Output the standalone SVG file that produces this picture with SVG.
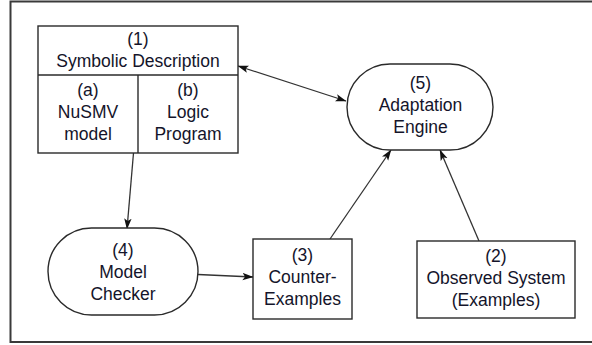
<svg xmlns="http://www.w3.org/2000/svg" width="592" height="345" viewBox="0 0 592 345">
  <style>
    .frame { fill: none; stroke: #3a3a3a; stroke-width: 2; }
    .box { fill: #ffffff; stroke: #2a2a2a; stroke-width: 1.4; }
    .div { fill: none; stroke: #2a2a2a; stroke-width: 1.4; }
    .edge { fill: none; stroke: #333333; stroke-width: 1.3; }
    text { font-family: "Liberation Sans", Arial, sans-serif; font-size: 17.5px; fill: #14142a; text-anchor: middle; }
  </style>
  <defs>
    <marker id="arrow" viewBox="0 0 11 8" refX="10.5" refY="4" markerWidth="11" markerHeight="8" markerUnits="userSpaceOnUse" orient="auto-start-reverse">
      <path d="M0,0.3 L11,4 L0,7.7 L2.5,4 z" fill="#111111"/>
    </marker>
  </defs>
  <rect width="592" height="345" fill="#ffffff"/>

  <!-- surrounding frame (open to the right) -->
  <path class="frame" d="M600,1.5 H10.5 V342 H600"/>

  <!-- connectors -->
  <g id="connectors">
    <line class="edge" x1="238" y1="66" x2="346" y2="101" marker-start="url(#arrow)" marker-end="url(#arrow)"/>
    <line class="edge" x1="133.5" y1="153" x2="127" y2="229" marker-end="url(#arrow)"/>
    <line class="edge" x1="198" y1="274.5" x2="253" y2="277" marker-end="url(#arrow)"/>
    <line class="edge" x1="330" y1="239" x2="391" y2="150" marker-end="url(#arrow)"/>
    <line class="edge" x1="479" y1="241" x2="440" y2="150" marker-end="url(#arrow)"/>
  </g>

  <!-- (1) symbolic description with its two parts -->
  <g id="symbolic-description">
    <rect class="box" x="38" y="26" width="200" height="127"/>
    <line class="div" x1="38" y1="75" x2="238" y2="75"/>
    <line class="div" x1="138" y1="75" x2="138" y2="153"/>
    <text x="138" y="45">(1)</text>
    <text x="138" y="67">Symbolic Description</text>
    <text x="88" y="96">(a)</text>
    <text x="88" y="118">NuSMV</text>
    <text x="88" y="140">model</text>
    <text x="188" y="96">(b)</text>
    <text x="188" y="118">Logic</text>
    <text x="188" y="140">Program</text>
  </g>

  <!-- (5) adaptation engine -->
  <g id="adaptation-engine">
    <rect class="box" x="347" y="64" width="146" height="86" rx="43" ry="43"/>
    <text x="420.5" y="89">(5)</text>
    <text x="420.5" y="111">Adaptation</text>
    <text x="420.5" y="133">Engine</text>
  </g>

  <!-- (4) model checker -->
  <g id="model-checker">
    <rect class="box" x="48" y="228" width="150" height="87" rx="43.5" ry="43.5"/>
    <text x="123" y="256">(4)</text>
    <text x="123" y="278">Model</text>
    <text x="123" y="300">Checker</text>
  </g>

  <!-- (3) counter-examples -->
  <g id="counter-examples">
    <rect class="box" x="253" y="239" width="99" height="80"/>
    <text x="302.5" y="261">(3)</text>
    <text x="302.5" y="283">Counter-</text>
    <text x="302.5" y="305">Examples</text>
  </g>

  <!-- (2) observed system -->
  <g id="observed-system">
    <rect class="box" x="417" y="241" width="158" height="77"/>
    <text x="496" y="262">(2)</text>
    <text x="496" y="284">Observed System</text>
    <text x="496" y="306">(Examples)</text>
  </g>
</svg>
